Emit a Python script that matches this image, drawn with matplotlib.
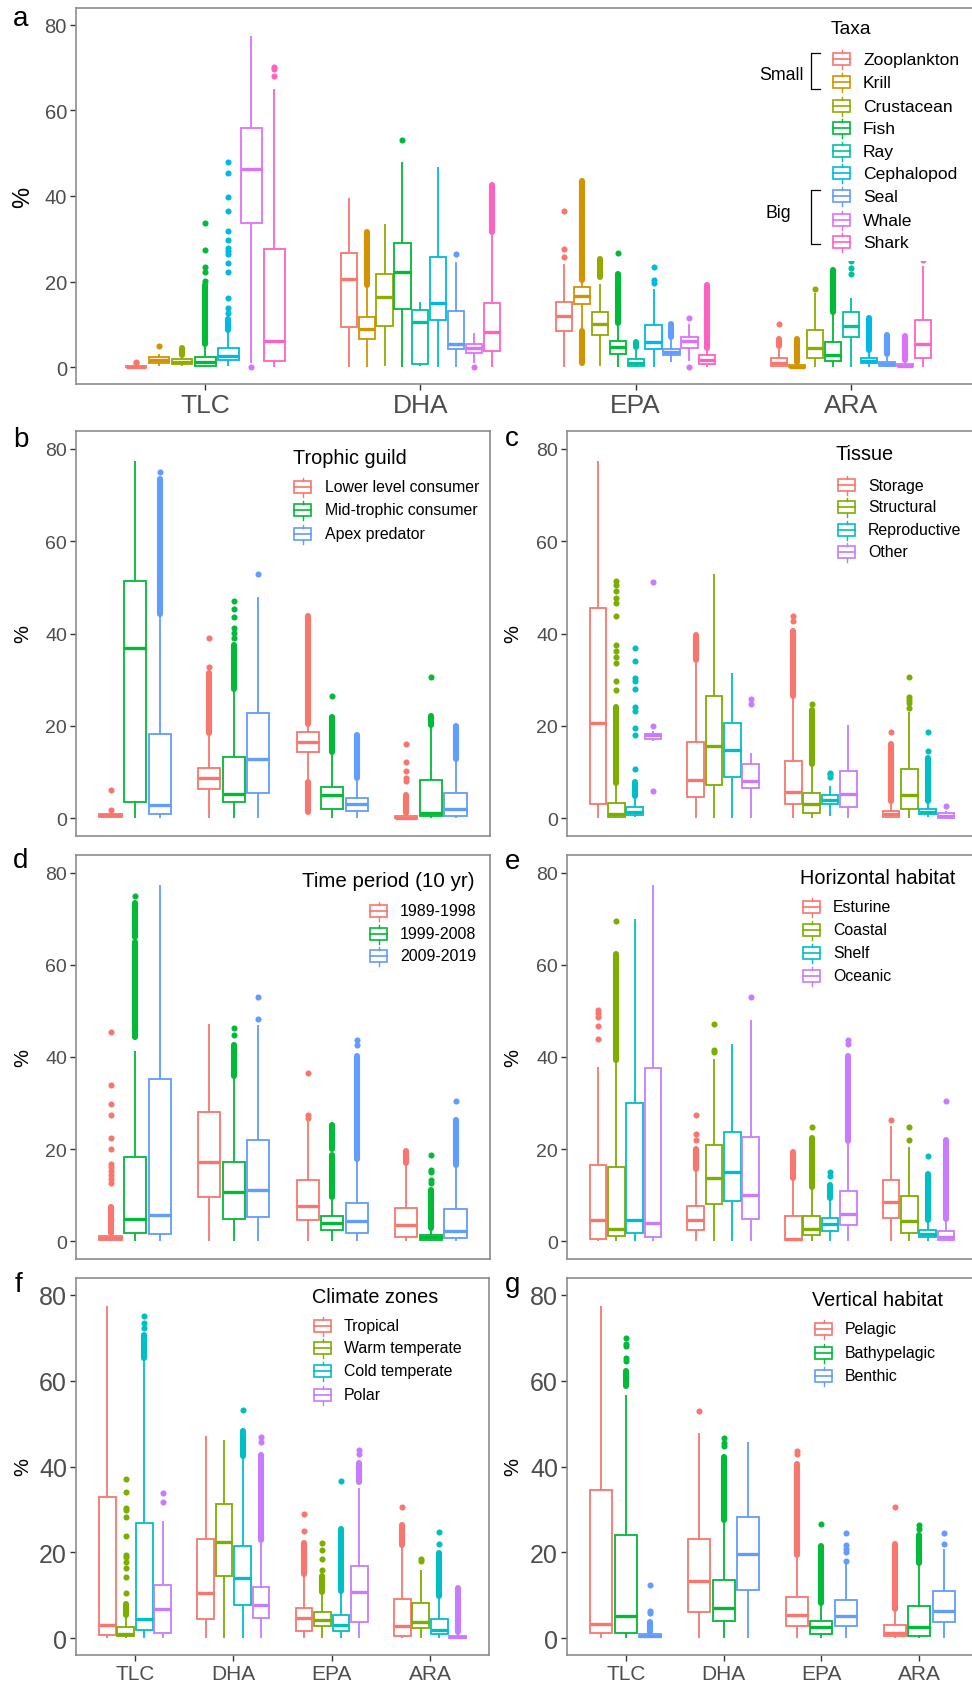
import matplotlib
matplotlib.use('Agg')
import matplotlib.pyplot as plt
from matplotlib.patches import Rectangle

plt.rcParams['font.family'] = ['Liberation Sans', 'DejaVu Sans']

# ---------------- categories / groups ----------------
FATTY = ['TLC', 'DHA', 'EPA', 'ARA']
TAXA = ['Zooplankton', 'Krill', 'Crustacean', 'Fish', 'Ray', 'Cephalopod', 'Seal', 'Whale', 'Shark']
TROPHIC = ['Lower level consumer', 'Mid-trophic consumer', 'Apex predator']
TISSUE = ['Storage', 'Structural', 'Reproductive', 'Other']
PERIOD = ['1989-1998', '1999-2008', '2009-2019']
HORIZ = ['Esturine', 'Coastal', 'Shelf', 'Oceanic']
CLIMATE = ['Tropical', 'Warm temperate', 'Cold temperate', 'Polar']
VERT = ['Pelagic', 'Bathypelagic', 'Benthic']

C9 = ["#F8766D", "#D39200", "#93AA00", "#00BA38", "#00C19F", "#00B9E3", "#619CFF", "#DB72FB", "#FF61C3"]
C3 = ["#F8766D", "#00BA38", "#619CFF"]
C4 = ["#F8766D", "#7CAE00", "#00BFC4", "#C77CFF"]
C3B = ["#F8766D", "#00BA38", "#619CFF"]

# box stats: (whisker low, q1, median, q3, whisker high); None = group absent
# ---------------- panel a: taxa ----------------
A_TLC = [(0.0, 0.0, 0.1, 0.3, 0.6), (0.4, 1.1, 1.6, 2.3, 3.0), (0.3, 0.8, 1.2, 1.85, 2.7),
         (0.0, 0.4, 1.3, 2.5, 5.2), None, (0.2, 1.7, 2.7, 4.6, 8.2), None,
         (1.0, 33.7, 46.4, 55.8, 77.3), (0.0, 1.55, 6.2, 27.7, 64.9)]
A_TLC_OUT = [[0.9, 1.3], [5.0], [], [20.1, 22.3, 23.5, 27.4, 33.8], [],
             [12.6, 13.8, 16.2, 22.2, 24.4, 26.4, 27.1, 27.9, 29.8, 31.8, 36.4, 39.8, 45.4, 48.0], [],
             [0.0], [68.1, 69.7, 70.2]]
A_TLC_RUN = [[], [], [(2.9, 4.6)], [(5.5, 19.2)], [], [(8.7, 11.3)], [], [], []]

A_DHA = [(0.0, 9.5, 20.6, 26.8, 39.6), (0.0, 6.5, 8.9, 11.65, 18.9), (0.2, 9.7, 16.4, 21.9, 33.5),
         (0.0, 13.5, 22.2, 29.0, 48.0), (0.3, 0.8, 10.5, 13.4, 15.2), (0.0, 11.0, 15.0, 25.7, 46.8),
         (0.0, 4.3, 5.5, 13.1, 24.5), (1.0, 3.3, 4.6, 5.4, 8.1), (0.0, 3.7, 8.3, 14.9, 31.0)]
A_DHA_OUT = [[], [], [], [53.0], [], [], [26.4], [0.1], []]
A_DHA_RUN = [[], [(19.2, 31.5)], [], [], [], [], [], [], [(31.5, 42.5)]]

A_EPA = [(0.0, 8.5, 11.9, 15.3, 24.2), (9.0, 14.7, 16.6, 18.8, 20.0), (0.2, 7.5, 10.0, 13.0, 19.5),
         (0.0, 3.2, 4.7, 6.1, 10.2), (0.0, 0.3, 1.1, 1.9, 4.1), (0.0, 4.2, 5.9, 9.9, 18.2),
         (1.3, 2.8, 3.6, 4.3, 6.6), (1.5, 4.4, 6.2, 7.1, 10.0), (0.0, 0.8, 1.8, 2.9, 4.4)]
A_EPA_OUT = [[25.7, 27.6, 36.6], [], [], [26.7], [], [19.7, 20.5, 23.4], [], [11.4, 0.1], []]
A_EPA_RUN = [[], [(0.9, 8.4), (20.3, 43.6)], [(21.0, 25.4)], [(10.4, 21.8)], [(4.7, 6.0)], [],
             [(7.0, 10.0)], [], [(4.6, 19.3)]]

A_ARA = [(0.0, 0.3, 1.0, 2.1, 4.8), (0.0, 0.0, 0.1, 0.5, 1.1), (0.0, 2.2, 4.4, 8.6, 17.4),
         (0.0, 1.5, 2.8, 6.0, 12.7), (0.0, 7.1, 9.7, 12.8, 16.2), (0.0, 1.1, 1.5, 2.1, 3.6),
         (0.0, 0.4, 0.8, 1.3, 2.5), (0.0, 0.2, 0.4, 0.8, 1.5), (0.0, 2.1, 5.5, 11.0, 23.7)]
A_ARA_OUT = [[10.0], [], [18.4], [], [21.9, 23.2, 24.8], [], [], [], [25.0]]
A_ARA_RUN = [[(5.0, 6.5)], [(1.2, 6.5)], [], [(13.0, 22.8)], [], [(4.0, 11.4)], [(3.0, 7.5)],
             [(1.7, 7.2)], []]

# ---------------- panel b: trophic guild ----------------
B_TLC = [(0.0, 0.2, 0.6, 0.9, 1.2), (0.0, 3.55, 36.8, 51.3, 77.3), (0.0, 0.9, 2.9, 18.3, 44.0)]
B_TLC_OUT = [[1.8, 6.0], [], [75.0]]
B_TLC_RUN = [[], [], [(44.2, 73.5)]]
B_DHA = [(0.0, 6.3, 8.6, 10.9, 17.7), (0.0, 3.4, 5.3, 13.2, 27.5), (0.0, 5.4, 12.9, 22.8, 48.0)]
B_DHA_OUT = [[32.7, 39.1], [39.0, 40.2, 41.2, 43.6, 45.3, 47.1], [53.0]]
B_DHA_RUN = [[(18.5, 31.5)], [(28.0, 37.6)], []]
B_EPA = [(8.5, 14.3, 16.4, 18.6, 19.8), (0.0, 1.9, 4.9, 6.8, 14.0), (0.0, 1.6, 3.1, 4.4, 8.1)]
B_EPA_OUT = [[], [26.5], []]
B_EPA_RUN = [[(1.2, 7.9), (20.3, 43.9)], [(14.3, 21.8)], [(8.6, 17.9)]]
B_ARA = [(0.0, 0.0, 0.1, 0.4, 0.9), (0.0, 0.4, 1.1, 8.3, 19.9), (0.0, 0.5, 2.0, 5.4, 12.5)]
B_ARA_OUT = [[8.0, 8.6, 10.1, 12.1, 16.1], [30.5], []]
B_ARA_RUN = [[(1.0, 5.0)], [(20.2, 22.2)], [(12.8, 20.0)]]

# ---------------- panel c: tissue ----------------
C_TLC = [(0.0, 3.0, 20.6, 45.5, 77.3), (0.0, 0.3, 0.9, 3.3, 7.5), (0.2, 0.7, 1.4, 2.3, 4.6),
         (16.6, 17.2, 17.9, 18.3, 18.8)]
C_TLC_OUT = [[], [27.8, 29.6, 33.6, 35.0, 36.2, 37.6, 43.8, 46.7, 47.8, 49.2, 50.6, 51.3],
             [10.6, 18.0, 19.5, 23.3, 24.0, 27.9, 29.8, 30.4, 34.1, 36.9], [5.8, 20.0, 51.2]]
C_TLC_RUN = [[], [(7.6, 24.0)], [(4.8, 7.9)], []]
C_DHA = [(0.0, 4.6, 8.3, 16.5, 33.5), (0.0, 7.2, 15.6, 26.5, 52.8), (0.0, 8.8, 14.7, 20.6, 31.4),
         (0.0, 6.4, 8.1, 11.8, 14.2)]
C_DHA_OUT = [[], [], [], [24.8, 25.7]]
C_DHA_RUN = [[(34.2, 39.6)], [], [], []]
C_EPA = [(0.0, 3.0, 5.7, 12.4, 26.0), (0.0, 1.0, 3.1, 5.4, 11.5), (0.5, 3.0, 3.9, 5.0, 7.0),
         (0.0, 2.3, 5.3, 10.2, 20.1)]
C_EPA_OUT = [[42.8, 43.8], [24.8], [8.9, 9.5, 9.8], []]
C_EPA_RUN = [[(26.5, 40.5)], [(11.8, 23.5)], [], []]
C_ARA = [(0.0, 0.2, 0.8, 1.6, 3.4), (0.0, 2.0, 4.9, 10.7, 23.0), (0.2, 0.8, 1.4, 2.0, 3.3),
         (0.0, 0.1, 0.5, 1.0, 1.5)]
C_ARA_OUT = [[18.6], [23.8, 24.9, 25.6, 26.3, 30.5], [14.5, 18.6], [2.5]]
C_ARA_RUN = [[(3.6, 16.1)], [], [(3.7, 13.0)], []]

# ---------------- panel d: time period ----------------
D_TLC = [(0.0, 0.3, 0.7, 1.1, 1.5), (0.0, 1.8, 4.8, 18.3, 41.2), (0.0, 1.45, 5.6, 35.2, 77.3)]
D_TLC_OUT = [[12.6, 13.4, 14.4, 15.2, 16.0, 16.7, 20.0, 22.4, 27.4, 29.7, 33.9, 45.5], [75.0], []]
D_TLC_RUN = [[(1.8, 7.5)], [(44.4, 65.0), (66.0, 73.5)], []]
D_DHA = [(0.0, 9.6, 17.1, 28.0, 47.2), (0.0, 4.7, 10.7, 17.2, 35.3), (0.0, 5.2, 11.0, 22.0, 47.0)]
D_DHA_OUT = [[], [44.8, 46.3], [48.2, 53.0]]
D_DHA_RUN = [[], [(35.8, 42.5)], []]
D_EPA = [(0.0, 4.6, 7.7, 13.3, 26.0), (0.0, 2.5, 3.9, 5.4, 9.0), (0.0, 1.8, 4.4, 8.2, 17.5)]
D_EPA_OUT = [[26.8, 27.3, 36.6], [], [42.6, 43.7]]
D_EPA_RUN = [[], [(9.5, 18.7), (20.0, 25.3)], [(17.8, 40.2)]]
D_ARA = [(0.0, 0.9, 3.5, 7.2, 16.5), (0.0, 0.2, 0.8, 1.4, 2.5), (0.0, 0.7, 2.2, 6.9, 16.2)]
D_ARA_OUT = [[], [12.6, 13.2, 15.0, 15.5, 18.6], [30.4]]
D_ARA_RUN = [[(17.0, 19.5)], [(2.8, 11.0)], [(16.5, 26.3)]]

# ---------------- panel e: horizontal habitat ----------------
E_TLC = [(0.0, 0.5, 4.6, 16.5, 37.8), (0.0, 1.1, 2.7, 16.1, 39.0), (0.0, 1.8, 4.6, 30.0, 70.0),
         (0.0, 0.9, 4.0, 37.7, 77.3)]
E_TLC_OUT = [[43.9, 46.8, 48.8, 49.6, 50.3], [69.6], [], []]
E_TLC_RUN = [[], [(39.3, 62.3)], [], []]
E_DHA = [(0.0, 2.5, 4.6, 7.7, 15.2), (0.0, 8.0, 13.6, 20.8, 39.5), (0.0, 8.7, 15.0, 23.7, 42.8),
         (0.0, 4.9, 10.0, 22.7, 48.0)]
E_DHA_OUT = [[21.9, 23.3, 27.4], [41.0, 41.6, 47.2], [], [53.0]]
E_DHA_RUN = [[(15.6, 20.0)], [], [], []]
E_EPA = [(0.0, 0.2, 0.4, 5.5, 13.2), (0.0, 1.3, 2.6, 5.4, 11.3), (0.0, 2.2, 3.6, 5.1, 8.9),
         (0.0, 3.4, 5.8, 10.8, 21.2)]
E_EPA_OUT = [[], [24.8], [14.2, 15.0], [42.8, 43.8]]
E_EPA_RUN = [[(13.7, 19.3)], [(11.7, 22.5)], [(9.4, 12.2)], [(21.8, 40.2)]]
E_ARA = [(0.0, 5.1, 8.5, 13.3, 25.0), (0.0, 1.7, 4.4, 9.9, 20.5), (0.0, 0.9, 1.5, 2.4, 4.2),
         (0.0, 0.3, 0.9, 2.1, 4.5)]
E_ARA_OUT = [[26.2], [22.0, 24.7], [18.5], [30.5]]
E_ARA_RUN = [[], [], [(4.6, 14.5)], [(4.8, 22.0)]]

# ---------------- panel f: climate zones ----------------
F_TLC = [(0.0, 0.7, 3.0, 33.0, 77.3), (0.0, 0.5, 1.1, 2.7, 5.2), (0.0, 1.9, 4.5, 26.9, 64.7),
         (0.0, 1.2, 6.8, 12.3, 27.3)]
F_TLC_OUT = [[], [10.6, 14.2, 16.3, 17.8, 19.0, 19.5, 23.8, 28.2, 29.8, 30.3, 34.0, 37.0],
             [72.3, 73.5, 75.0], [31.8, 33.8]]
F_TLC_RUN = [[], [(5.5, 8.0)], [(65.2, 70.6)], []]
F_DHA = [(0.0, 4.5, 10.6, 23.2, 47.1), (0.0, 14.4, 22.4, 31.3, 46.1), (0.0, 7.7, 14.0, 21.4, 42.0),
         (0.0, 4.7, 7.7, 11.9, 22.5)]
F_DHA_OUT = [[], [], [53.1], [45.6, 46.9]]
F_DHA_RUN = [[], [], [(42.5, 48.2)], [(22.8, 42.6)]]
F_EPA = [(0.0, 1.7, 4.7, 7.0, 14.6), (0.0, 2.9, 4.2, 6.0, 10.3), (0.0, 1.6, 3.2, 5.3, 10.5),
         (0.0, 3.7, 10.8, 16.8, 35.0)]
F_EPA_OUT = [[24.9, 29.0], [16.0, 18.4, 20.6, 22.2], [36.6], [43.0, 43.8]]
F_EPA_RUN = [[(15.0, 22.2)], [(10.7, 14.4)], [(10.9, 25.5)], [(36.5, 40.8)]]
F_ARA = [(0.0, 0.6, 2.9, 9.2, 21.5), (0.0, 2.3, 3.8, 8.1, 16.0), (0.0, 1.0, 2.0, 4.5, 9.5),
         (0.0, 0.15, 0.4, 0.6, 1.2)]
F_ARA_OUT = [[30.5], [18.0, 18.5], [22.0, 24.7], []]
F_ARA_RUN = [[(21.8, 26.4)], [], [(9.9, 19.8)], [(1.4, 11.6)]]

# ---------------- panel g: vertical habitat ----------------
G_TLC = [(0.0, 1.3, 3.3, 34.6, 77.3), (0.0, 1.3, 5.1, 24.1, 56.6), (0.0, 0.3, 0.6, 0.9, 1.2)]
G_TLC_OUT = [[], [64.6, 65.2, 68.0, 68.6, 70.0], [5.8, 6.4, 12.3]]
G_TLC_RUN = [[], [(58.8, 62.2)], [(1.5, 3.7)]]
G_DHA = [(0.0, 6.1, 13.3, 23.0, 47.9), (0.0, 4.0, 7.0, 13.5, 27.0), (0.0, 11.3, 19.6, 28.2, 45.8)]
G_DHA_OUT = [[52.9], [44.8, 45.5, 46.6], []]
G_DHA_RUN = [[], [(27.5, 42.3)], []]
G_EPA = [(0.0, 2.9, 5.3, 9.5, 18.8), (0.0, 1.1, 2.6, 4.0, 7.8), (0.0, 2.8, 5.2, 8.8, 17.5)]
G_EPA_OUT = [[43.0, 43.7], [26.5], [18.0, 20.2, 20.8, 21.7, 24.6]]
G_EPA_RUN = [[(19.3, 40.5)], [(8.2, 21.4)], []]
G_ARA = [(0.0, 0.5, 1.2, 3.0, 6.5), (0.0, 0.5, 2.6, 7.4, 17.0), (0.0, 3.8, 6.4, 11.1, 20.7)]
G_ARA_OUT = [[30.5], [25.5, 26.3], [22.0, 24.6]]
G_ARA_RUN = [[(6.9, 22.0)], [(17.5, 24.0)], []]

YTICKS = [0, 20, 40, 60, 80]

# ---------------- figure ----------------
W, H = 972, 1683
fig = plt.figure(figsize=(W / 100, H / 100), dpi=100)


def add_ax(l, r, t, b):
    return fig.add_axes([l / W, 1 - b / H, (r - l) / W, (b - t) / H])


BOX_LW = 1.3
MED_LW = 2.4
PT_MS = 4.4


def draw_panel(ax, boxes, outs, runs, colors, yfs, xfs=None):
    for ci in range(len(FATTY)):
        present = [i for i, s in enumerate(boxes[ci]) if s is not None]
        n = len(present)
        slot = 0.75 / n
        bw = 0.9 * slot
        for k, i in enumerate(present):
            x = ci + 1 + (k - (n - 1) / 2) * slot
            lo, q1, med, q3, hi = boxes[ci][i]
            col = colors[i]
            for (r0, r1) in runs[ci][i]:
                ax.plot([x, x], [r0, r1], color=col, lw=PT_MS, solid_capstyle='round', zorder=2)
            if outs[ci][i]:
                ax.plot([x] * len(outs[ci][i]), outs[ci][i], 'o', color=col, ms=PT_MS,
                        mew=0, zorder=2)
            ax.plot([x, x], [q3, hi], color=col, lw=BOX_LW, zorder=2.5, solid_capstyle='butt')
            ax.plot([x, x], [lo, q1], color=col, lw=BOX_LW, zorder=2.5, solid_capstyle='butt')
            ax.add_patch(Rectangle((x - bw / 2, q1), bw, q3 - q1, facecolor='white',
                                   edgecolor=col, lw=BOX_LW, zorder=3))
            ax.plot([x - bw / 2, x + bw / 2], [med, med], color=col, lw=MED_LW, zorder=3.5,
                    solid_capstyle='butt')
    ax.set_xlim(0.4, 4.6)
    ax.set_ylim(-3.9, 83.9)
    ax.set_yticks(YTICKS)
    ax.set_yticklabels([str(v) for v in YTICKS])
    ax.tick_params(axis='y', length=4.5, width=1.0, color='#333333', labelsize=yfs,
                   labelcolor='#4D4D4D', pad=2)
    ax.set_xticks([1, 2, 3, 4])
    if xfs is None:
        ax.tick_params(axis='x', length=0, labelbottom=False)
    else:
        ax.set_xticklabels(FATTY)
        ax.tick_params(axis='x', length=4.5, width=1.0, color='#333333', labelsize=xfs,
                       labelcolor='#4D4D4D', pad=2)
    for s in ax.spines.values():
        s.set_color('#8C8C8C')
        s.set_linewidth(1.2)


def pack(prefix):
    g = globals()
    return ([g[prefix + '_' + f] for f in FATTY],
            [g[prefix + '_' + f + '_OUT'] for f in FATTY],
            [g[prefix + '_' + f + '_RUN'] for f in FATTY])


axa = add_ax(76, 980, 9, 385)
draw_panel(axa, *pack('A'), C9, 14.5, 19)
axb = add_ax(76, 490, 432, 837)
draw_panel(axb, *pack('B'), C3, 14)
axc = add_ax(567, 977, 432, 837)
draw_panel(axc, *pack('C'), C4, 14)
axd = add_ax(76, 490, 856, 1260)
draw_panel(axd, *pack('D'), C3, 14)
axe = add_ax(567, 977, 856, 1260)
draw_panel(axe, *pack('E'), C4, 14)
axf = add_ax(76, 489, 1279, 1656)
draw_panel(axf, *pack('F'), C4, 18, 15)
axg = add_ax(567, 978, 1279, 1656)
draw_panel(axg, *pack('G'), C3B, 18, 15)

# ---------------- overlay for legends / labels ----------------
ov = fig.add_axes([0, 0, 1, 1], zorder=10)
ov.set_xlim(0, W)
ov.set_ylim(H, 0)
ov.axis('off')
ov.patch.set_alpha(0)

# white legend background in panel a
ov.add_patch(Rectangle((752, 14), 226, 248, facecolor='white', edgecolor='none', zorder=1))


def legend(title, tx, ty, tfs, labels, colors, kx, ys, lx, lfs):
    ov.text(tx, ty, title, fontsize=tfs, va='center', ha='left', color='black', zorder=5)
    for lab, col, y in zip(labels, colors, ys):
        ov.add_patch(Rectangle((kx + 1, y - 6), 17, 12, facecolor='white', edgecolor=col,
                               lw=1.2, zorder=5))
        ov.plot([kx + 1, kx + 18], [y, y], color=col, lw=1.2, zorder=6)
        ov.plot([kx + 9.5, kx + 9.5], [y - 9.5, y - 6], color=col, lw=1.0, zorder=5)
        ov.plot([kx + 9.5, kx + 9.5], [y + 6, y + 9.5], color=col, lw=1.0, zorder=5)
        ov.text(lx, y, lab, fontsize=lfs, va='center', ha='left', color='black', zorder=5)


legend('Taxa', 831, 30, 13.8, TAXA, C9, 832,
       [60, 83, 107, 129, 152, 174, 197, 221, 243], 863, 12.6)
# Small / Big brackets
ov.text(781, 75, 'Small', fontsize=12.8, ha='center', va='center', zorder=5)
ov.plot([820, 811, 811, 820], [54, 54, 90, 90], color='black', lw=0.9, zorder=5)
ov.text(778, 213, 'Big', fontsize=12.8, ha='center', va='center', zorder=5)
ov.plot([820, 811, 811, 820], [191, 191, 245, 245], color='black', lw=0.9, zorder=5)

legend('Trophic guild', 293, 458, 14.3, TROPHIC, C3, 293, [488, 511, 535], 325, 11.4)
legend('Tissue', 835, 454, 14.3, TISSUE, C4, 837, [486, 508, 531, 553], 868, 11.4)
legend('Time period (10 yr)', 302, 882, 14.8, PERIOD, C3, 369, [912, 935, 957], 400, 11.5)
legend('Horizontal habitat', 800, 879, 14.3, HORIZ, C4, 802, [908, 931, 954, 977], 833, 11.4)
legend('Climate zones', 312, 1298, 14.3, CLIMATE, C4, 313, [1327, 1349, 1372, 1396], 344, 11.4)
legend('Vertical habitat', 812, 1301, 14.3, VERT, C3B, 814, [1330, 1354, 1377], 845, 11.4)

# panel letters
for lab, x, y in [('a', 13, 26), ('b', 13, 447), ('c', 505, 446), ('d', 13, 868),
                  ('e', 505, 869), ('f', 15, 1292), ('g', 505, 1292)]:
    ov.text(x, y, lab, fontsize=20, ha='left', va='baseline', color='black')

# y labels
for x, y, fs in [(23, 197, 17), (23, 634, 14.5), (513, 634, 14.5), (23, 1058, 14.5),
                 (513, 1058, 14.5), (23, 1467, 14.5), (513, 1467, 14.5)]:
    ov.text(x, y, '%', fontsize=fs, rotation=90, ha='center', va='center', color='black')

fig.savefig('out.png', dpi=100)
